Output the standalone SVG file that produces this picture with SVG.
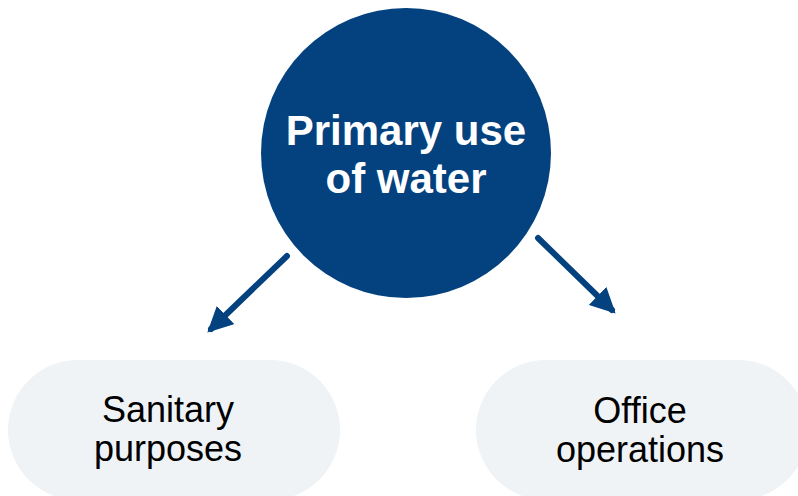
<svg xmlns="http://www.w3.org/2000/svg" width="798" height="496" viewBox="0 0 798 496">
<defs>
<style>
.pill{fill:#EFF3F6;}
.lbl{font-family:"Liberation Sans",Arial,sans-serif;font-size:36px;fill:#000;text-anchor:middle;}
.main{font-family:"Liberation Sans",Arial,sans-serif;font-size:42px;font-weight:bold;fill:#fff;text-anchor:middle;}
.conn{stroke:#03427F;stroke-width:6;stroke-linecap:round;fill:none;}
</style>
<marker id="ah" viewBox="0 0 10 10" refX="8" refY="5" markerWidth="4.2" markerHeight="4.2" markerUnits="strokeWidth" orient="auto">
<path d="M0,0 L10,5 L0,10 z" fill="#03427F"/>
</marker>
</defs>
<rect width="798" height="496" fill="#fff"/>
<g id="connectors">
<line class="conn" x1="287" y1="256" x2="211" y2="329" marker-end="url(#ah)"/>
<line class="conn" x1="538" y1="238" x2="612" y2="310" marker-end="url(#ah)"/>
</g>
<g id="primary">
<circle cx="406" cy="153" r="145" fill="#03427F"/>
<text class="main" x="406" y="145">Primary use</text>
<text class="main" x="406" y="193">of water</text>
</g>
<g id="sanitary">
<rect class="pill" x="8" y="360" width="332" height="140" rx="70" ry="70"/>
<text class="lbl" x="168" y="422">Sanitary</text>
<text class="lbl" x="168" y="461">purposes</text>
</g>
<g id="office">
<rect class="pill" x="476" y="360" width="332" height="140" rx="70" ry="70"/>
<text class="lbl" x="640" y="423">Office</text>
<text class="lbl" x="640" y="462">operations</text>
</g>
</svg>
